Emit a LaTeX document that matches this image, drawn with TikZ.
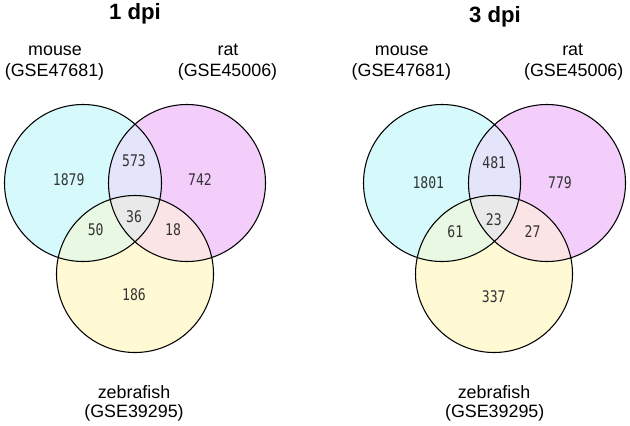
\documentclass[tikz,border=0pt]{standalone}
\usepackage{fontspec}
\setmainfont{Liberation Sans}
\newfontfamily\numfont[FakeStretch=0.82]{DejaVu Sans Mono}
\definecolor{mousefill}{RGB}{214,250,252}
\definecolor{ratfill}{RGB}{244,206,250}
\definecolor{zebrafill}{RGB}{255,250,212}
\definecolor{mrfill}{RGB}{228,228,250}
\definecolor{mzfill}{RGB}{232,248,226}
\definecolor{rzfill}{RGB}{250,228,230}
\definecolor{allfill}{RGB}{233,233,233}
\definecolor{numgray}{RGB}{51,51,51}
\tikzset{
  settitle/.style={font=\fontsize{16.6}{20}\selectfont\bfseries, anchor=base, inner sep=0pt},
  setlabel/.style={font=\fontsize{13.4}{16}\selectfont, anchor=base, inner sep=0pt},
  count/.style={font=\numfont\fontsize{12}{14}\selectfont, text=numgray, inner sep=0pt},
  ring/.style={draw=black, line width=0.8pt},
}
\begin{document}
\begin{tikzpicture}[x=0.75pt,y=0.75pt,yscale=-1,xscale=1]
\useasboundingbox (0,0) rectangle (630,425);
% 1 dpi
\coordinate (mA) at (83,183);
\coordinate (rA) at (187,183);
\coordinate (zA) at (135,274);
\fill[mousefill] (mA) circle (78.5);
\fill[ratfill] (rA) circle (78.5);
\fill[zebrafill] (zA) circle (78.5);
\begin{scope} \clip (mA) circle (78.5); \fill[mrfill] (rA) circle (78.5); \end{scope}
\begin{scope} \clip (mA) circle (78.5); \fill[mzfill] (zA) circle (78.5); \end{scope}
\begin{scope} \clip (rA) circle (78.5); \fill[rzfill] (zA) circle (78.5); \end{scope}
\begin{scope} \clip (mA) circle (78.5); \clip (rA) circle (78.5); \fill[allfill] (zA) circle (78.5); \end{scope}
\draw[ring] (mA) circle (78.5) (rA) circle (78.5) (zA) circle (78.5);
\node[settitle] (titleA) at (135,19.5) {1 dpi};
\node[setlabel] (mouseA) at (55,55) {mouse};
\node[setlabel] (mouseidA) at (54.5,76) {(GSE47681)};
\node[setlabel] (ratA) at (228,55) {rat};
\node[setlabel] (ratidA) at (227.5,76) {(GSE45006)};
\node[setlabel] (zebraA) at (134,398) {zebrafish};
\node[setlabel] (zebraidA) at (134,417) {(GSE39295)};
\node[count] (mOnlyA) at (68.7,180) {1879};
\node[count] (mrA) at (134,161) {573};
\node[count] (rOnlyA) at (200,180) {742};
\node[count] (mzA) at (95.7,230) {50};
\node[count] (allA) at (134,217) {36};
\node[count] (rzA) at (173,230) {18};
\node[count] (zOnlyA) at (134,294.7) {186};
% 3 dpi
\coordinate (mB) at (442,183);
\coordinate (rB) at (547,183);
\coordinate (zB) at (494,274);
\fill[mousefill] (mB) circle (78.5);
\fill[ratfill] (rB) circle (78.5);
\fill[zebrafill] (zB) circle (78.5);
\begin{scope} \clip (mB) circle (78.5); \fill[mrfill] (rB) circle (78.5); \end{scope}
\begin{scope} \clip (mB) circle (78.5); \fill[mzfill] (zB) circle (78.5); \end{scope}
\begin{scope} \clip (rB) circle (78.5); \fill[rzfill] (zB) circle (78.5); \end{scope}
\begin{scope} \clip (mB) circle (78.5); \clip (rB) circle (78.5); \fill[allfill] (zB) circle (78.5); \end{scope}
\draw[ring] (mB) circle (78.5) (rB) circle (78.5) (zB) circle (78.5);
\node[settitle] (titleB) at (495,22) {3 dpi};
\node[setlabel] (mouseB) at (401.7,55) {mouse};
\node[setlabel] (mouseidB) at (401.3,76) {(GSE47681)};
\node[setlabel] (ratB) at (572.7,55) {rat};
\node[setlabel] (ratidB) at (573.7,76) {(GSE45006)};
\node[setlabel] (zebraB) at (494,398) {zebrafish};
\node[setlabel] (zebraidB) at (494.7,417) {(GSE39295)};
\node[count] (mOnlyB) at (428.3,182.5) {1801};
\node[count] (mrB) at (494.2,162.5) {481};
\node[count] (rOnlyB) at (560,182.5) {779};
\node[count] (mzB) at (455.3,231.5) {61};
\node[count] (allB) at (493.8,219.2) {23};
\node[count] (rzB) at (532.5,231.5) {27};
\node[count] (zOnlyB) at (493.7,297) {337};
\end{tikzpicture}
\end{document}
